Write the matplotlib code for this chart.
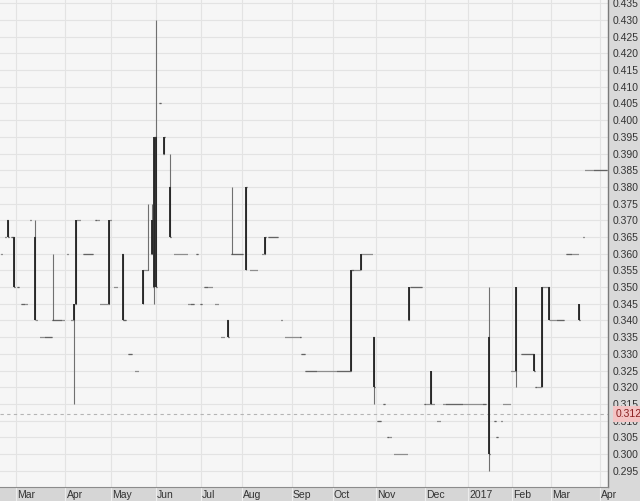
import matplotlib
matplotlib.use('Agg')
import matplotlib.pyplot as plt
import matplotlib.transforms as mtrans
import numpy as np

plt.rcParams['font.family'] = ['Liberation Sans', 'DejaVu Sans']

# ---- x axis: trading-day index, month boundaries ----
month_pos = [0, 24, 46, 68, 90, 110, 134, 154, 175, 199, 220, 241, 260, 284]
month_labels = ['Mar', 'Apr', 'May', 'Jun', 'Jul', 'Aug', 'Sep', 'Oct', 'Nov',
                'Dec', '2017', 'Feb', 'Mar', 'Apr']

# ---- days with a price range (OHLC) ----
bar_day = [-4, -1, 9, 18, 28, 29, 45, 52, 62, 64,
           66, 67, 68, 72, 75, 103, 105, 112, 121, 163,
           168, 174, 191, 202, 230, 243, 252, 256, 259, 274]
bar_open = [0.370, 0.365, 0.365, 0.340, 0.340, 0.345, 0.345, 0.360, 0.345, 0.355,
            0.360, 0.350, 0.395, 0.390, 0.380, 0.340, 0.360, 0.355, 0.360, 0.325,
            0.355, 0.335, 0.340, 0.325, 0.335, 0.325, 0.330, 0.320, 0.350, 0.345]
bar_high = [0.370, 0.365, 0.370, 0.360, 0.345, 0.370, 0.370, 0.360, 0.355, 0.375,
            0.375, 0.395, 0.430, 0.395, 0.390, 0.340, 0.380, 0.380, 0.365, 0.355,
            0.360, 0.335, 0.350, 0.325, 0.350, 0.350, 0.330, 0.350, 0.350, 0.345]
bar_low = [0.365, 0.350, 0.340, 0.340, 0.315, 0.345, 0.345, 0.340, 0.345, 0.355,
           0.360, 0.345, 0.350, 0.390, 0.365, 0.335, 0.360, 0.355, 0.360, 0.325,
           0.355, 0.315, 0.340, 0.315, 0.295, 0.320, 0.325, 0.320, 0.340, 0.340]
bar_close = [0.365, 0.350, 0.340, 0.340, 0.345, 0.370, 0.370, 0.340, 0.355, 0.355,
             0.370, 0.395, 0.350, 0.395, 0.365, 0.335, 0.360, 0.380, 0.365, 0.355,
             0.360, 0.320, 0.350, 0.315, 0.300, 0.350, 0.325, 0.350, 0.340, 0.340]

# ---- days that traded at one price (open = high = low = close) ----
flat_day = [
    -7, -5, -2, 1,
    3, 4, 5, 7, 10,
    12, 13, 14, 15, 16, 17,
    19, 20, 21, 22, 23,
    25, 27, 30, 31,
    33, 34, 35, 36, 37,
    39, 40, 41, 42, 43, 44,
    46, 48, 49, 53, 55, 56, 58, 59, 63, 70,
    77, 78, 79, 80, 81, 82, 83,
    84, 85, 86, 88, 90,
    92, 93, 94, 95, 97, 98, 100, 101,
    106, 107, 108, 109, 110,
    114, 115, 116, 117, 120,
    123, 124, 125, 126, 127, 129,
    131, 132, 133, 134, 135, 136, 137, 138, 139, 140,
    141, 142, 143, 144, 145, 146, 147, 148, 149, 150, 151,
    152, 153, 154, 155, 156, 157, 158, 159, 160, 161, 162,
    164, 165, 166, 167, 169, 170, 171, 172, 173,
    176, 177, 179, 181, 182,
    184, 185, 186, 187, 188, 189, 190,
    192, 193, 194, 195, 196, 197,
    199, 200, 201, 203, 205, 206,
    208, 209, 210, 211, 212, 213, 214, 215, 216, 217, 218,
    219, 220, 221, 222, 223, 224, 225, 226, 227, 228,
    233, 234, 236, 237, 238, 239, 240, 241, 242,
    246, 247, 248, 249, 250, 251, 253, 254, 255, 257, 258,
    260, 261, 262, 263, 264, 265, 266,
    268, 269, 270, 271, 272, 273, 276,
    277, 278, 279, 280, 281, 282, 283, 284, 285, 286, 287,
]
flat_price = [
    0.360, 0.365, 0.365, 0.350,
    0.345, 0.345, 0.345, 0.370, 0.340,
    0.335, 0.335, 0.335, 0.335, 0.335, 0.335,
    0.340, 0.340, 0.340, 0.340, 0.340,
    0.360, 0.340, 0.370, 0.370,
    0.360, 0.360, 0.360, 0.360, 0.360,
    0.370, 0.370, 0.345, 0.345, 0.345, 0.345,
    0.370, 0.350, 0.350, 0.340, 0.330, 0.330, 0.325, 0.325, 0.355, 0.405,
    0.360, 0.360, 0.360, 0.360, 0.360, 0.360, 0.360,
    0.345, 0.345, 0.345, 0.360, 0.345,
    0.350, 0.350, 0.350, 0.350, 0.345, 0.345, 0.335, 0.335,
    0.360, 0.360, 0.360, 0.360, 0.360,
    0.355, 0.355, 0.355, 0.355, 0.360,
    0.365, 0.365, 0.365, 0.365, 0.365, 0.340,
    0.335, 0.335, 0.335, 0.335, 0.335, 0.335, 0.335, 0.335, 0.330, 0.330,
    0.325, 0.325, 0.325, 0.325, 0.325, 0.325, 0.325, 0.325, 0.325, 0.325, 0.325,
    0.325, 0.325, 0.325, 0.325, 0.325, 0.325, 0.325, 0.325, 0.325, 0.325, 0.325,
    0.355, 0.355, 0.355, 0.355, 0.360, 0.360, 0.360, 0.360, 0.360,
    0.310, 0.310, 0.315, 0.305, 0.305,
    0.300, 0.300, 0.300, 0.300, 0.300, 0.300, 0.300,
    0.350, 0.350, 0.350, 0.350, 0.350, 0.350,
    0.315, 0.315, 0.315, 0.315, 0.310, 0.310,
    0.315, 0.315, 0.315, 0.315, 0.315, 0.315, 0.315, 0.315, 0.315, 0.315, 0.315,
    0.315, 0.315, 0.315, 0.315, 0.315, 0.315, 0.315, 0.315, 0.315, 0.315,
    0.310, 0.305, 0.310, 0.315, 0.315, 0.315, 0.315, 0.325, 0.325,
    0.330, 0.330, 0.330, 0.330, 0.330, 0.330, 0.320, 0.320, 0.320, 0.350, 0.350,
    0.340, 0.340, 0.340, 0.340, 0.340, 0.340, 0.340,
    0.360, 0.360, 0.360, 0.360, 0.360, 0.360, 0.365,
    0.385, 0.385, 0.385, 0.385, 0.385, 0.385, 0.385, 0.385, 0.385, 0.385, 0.385,
]

ref_price = 0.312
y_ticks = [0.295, 0.300, 0.305, 0.310, 0.315, 0.320, 0.325, 0.330, 0.335, 0.340,
           0.345, 0.350, 0.355, 0.360, 0.365, 0.370, 0.375, 0.380, 0.385, 0.390,
           0.395, 0.400, 0.405, 0.410, 0.415, 0.420, 0.425, 0.430, 0.435]

# ---------------------------------------------------------------------------
W, H = 640, 501
fig = plt.figure(figsize=(W / 100, H / 100), dpi=100)
fig.patch.set_facecolor('#d9d9d9')

ax = fig.add_axes([0, 14 / H, 608 / W, 487 / H])
ax.set_facecolor('#f6f6f6')
ax.set_xlim(-7.78, 287.9)
ax.set_ylim(0.2901, 0.4360)

ax.set_yticks(y_ticks)
ax.set_yticklabels([f'{v:.3f}' for v in y_ticks])
ax.yaxis.tick_right()
ax.tick_params(axis='y', length=0, pad=3, labelsize=7.5, labelcolor='#333333')
ax.set_xticks(month_pos)
ax.set_xticklabels([])
ax.tick_params(axis='x', length=0)
ax.grid(True, color='#e3e3e3', lw=0.8, zorder=0)
ax.set_axisbelow(True)
for s in ['top', 'left', 'bottom']:
    ax.spines[s].set_visible(False)
ax.spines['right'].set_color('#7a7a7a')
ax.spines['right'].set_linewidth(1.0)

# reference line and its price tag (the tag sits over the 0.310 label, as in the original)
ax.axhline(ref_price, color='#b4b4b4', lw=0.8, ls=(0, (3, 3)), zorder=1)
trans = mtrans.blended_transform_factory(ax.transAxes, ax.transData)
ax.text(1.012, ref_price, f'{ref_price:.3f}', transform=trans, ha='left', va='center',
        fontsize=7.5, color='#8a2020', clip_on=False, zorder=5,
        bbox=dict(boxstyle='square,pad=0.25', fc='#f4c4c4', ec='none'))

# bars: thin high-low line, darker open-close segment, open/close ticks
bd = np.array(bar_day, float)
bo = np.array(bar_open)
bc = np.array(bar_close)
ax.vlines(bd, bar_low, bar_high, color='#707070', lw=0.8, zorder=3)
ax.vlines(bd, np.minimum(bo, bc), np.maximum(bo, bc), color='#222222', lw=1.3, zorder=4)

all_day = np.concatenate([bd, np.array(flat_day, float)])
all_open = np.concatenate([bo, np.array(flat_price)])
all_close = np.concatenate([bc, np.array(flat_price)])
tk = 0.36
ax.hlines(all_open, all_day - tk, all_day, color='#3a3a3a', lw=0.9, zorder=4)
ax.hlines(all_close, all_day, all_day + tk, color='#3a3a3a', lw=0.9, zorder=4)

# bottom month strip
ax2 = fig.add_axes([0, 0, 608 / W, 14 / H])
ax2.set_facecolor('#d6d6d6')
ax2.set_xlim(ax.get_xlim())
ax2.set_ylim(0, 1)
ax2.set_xticks([])
ax2.set_yticks([])
for s in ['left', 'bottom', 'right']:
    ax2.spines[s].set_visible(False)
ax2.spines['top'].set_color('#8c8c8c')
ax2.vlines(month_pos, 0, 1, color='#ececec', lw=0.8)
for p, lab in zip(month_pos, month_labels):
    ax2.text(p + 0.6, 0.45, lab, ha='left', va='center', fontsize=7.5, color='#333333')

fig.savefig('out.png', dpi=100, facecolor=fig.get_facecolor())
